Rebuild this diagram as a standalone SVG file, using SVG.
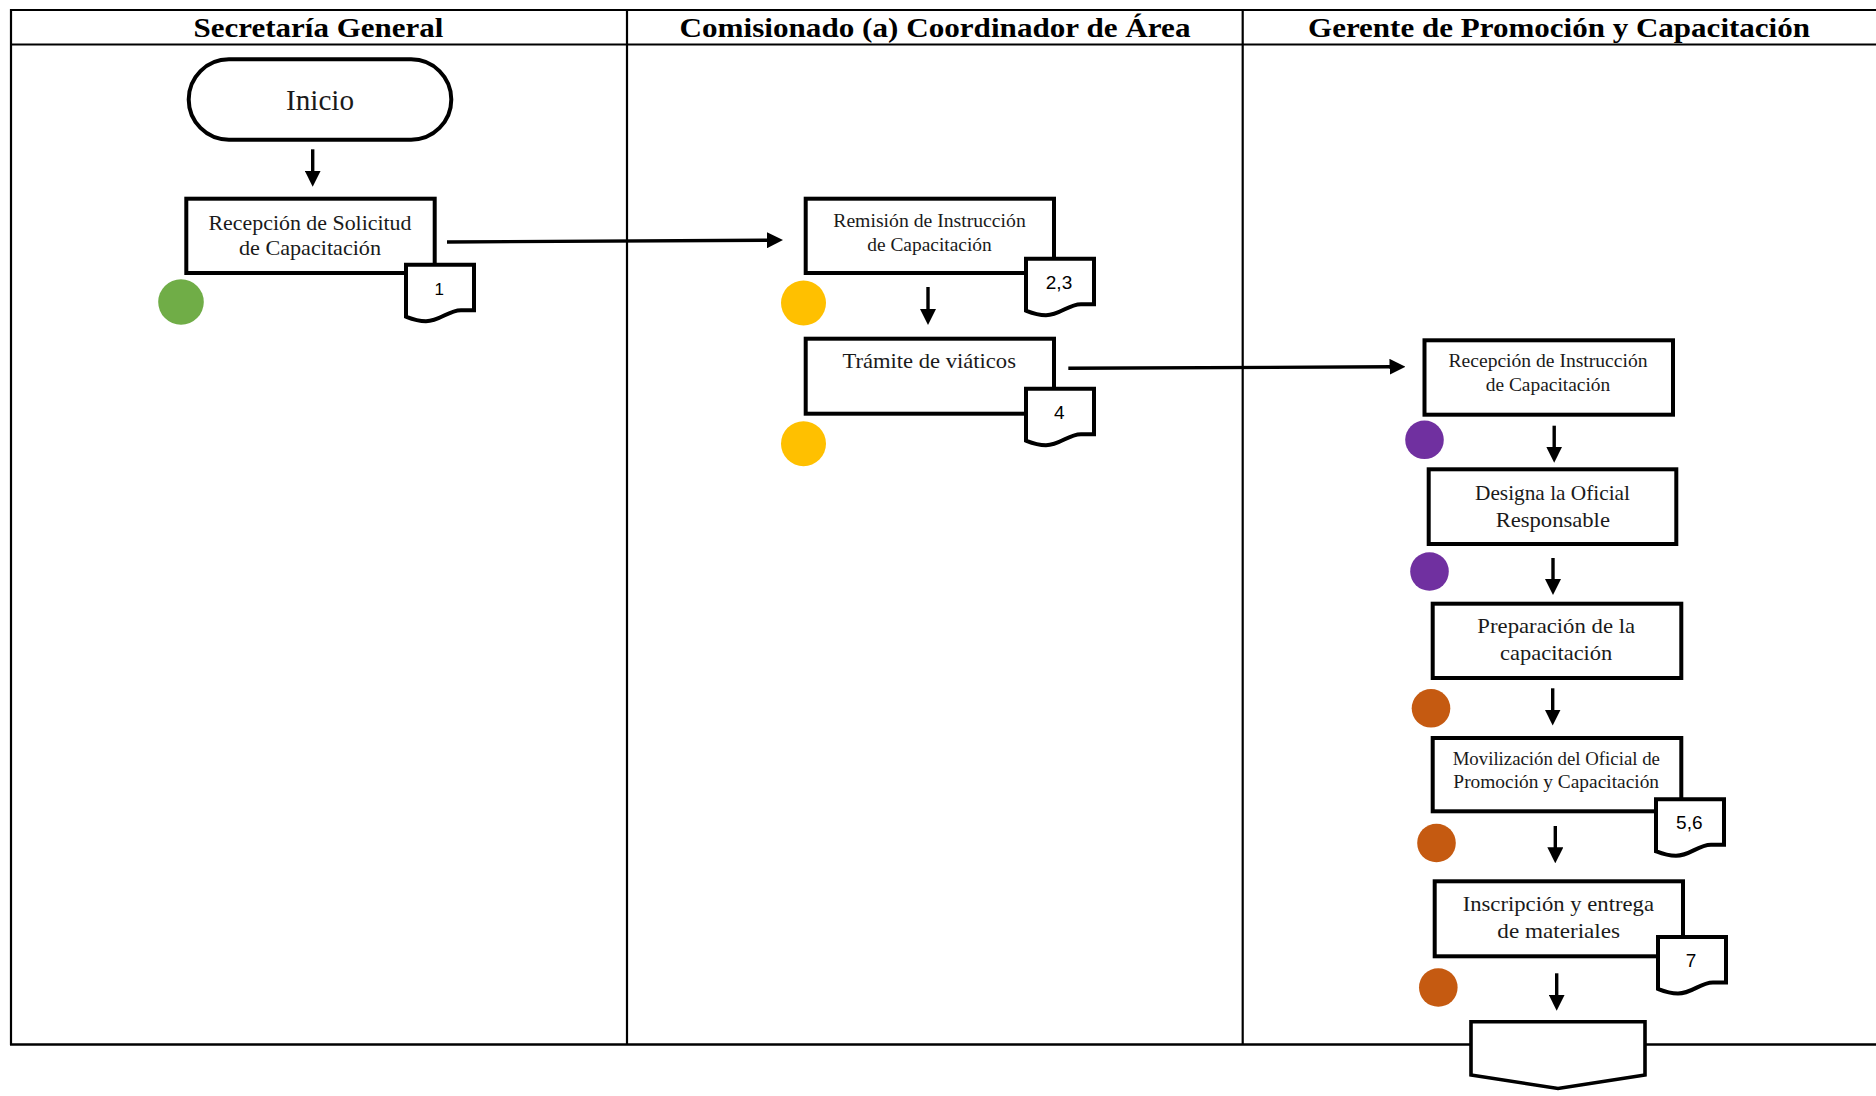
<svg xmlns="http://www.w3.org/2000/svg" width="1876" height="1096" viewBox="0 0 1876 1096">
  <style>
    .lane { stroke: #000; stroke-width: 2.2; fill: none; }
    .hdr { font-family: "Liberation Serif", "DejaVu Serif", serif; font-weight: bold; font-size: 28px; fill: #000; text-anchor: middle; }
    .box { fill: #fff; stroke: #000; stroke-width: 4; }
    .term { fill: #fff; stroke: #000; stroke-width: 4; }
    .doc { fill: #fff; stroke: #000; stroke-width: 4; stroke-linejoin: miter; }
    .lbl { font-family: "Liberation Serif", "DejaVu Serif", serif; font-size: 21px; fill: #1a1a1a; text-anchor: middle; }
    .sm { font-size: 18.5px; }
    .big { font-size: 21.5px; }
    .num { font-family: "Liberation Sans", Arial, sans-serif; font-size: 19px; fill: #000; text-anchor: middle; }
    .flow { stroke: #000; stroke-width: 3.4; fill: none; marker-end: url(#ah); }
    .green { fill: #70AD47; }
    .yellow { fill: #FFC000; }
    .purple { fill: #7030A0; }
    .orange { fill: #C55A11; }
  </style>
  <defs>
    <marker id="ah" markerUnits="userSpaceOnUse" markerWidth="16" markerHeight="16" refX="2" refY="8" orient="auto">
      <path d="M0,0 L16,8 L0,16 Z" fill="#000"/>
    </marker>
    <!-- document symbol, 68 wide, wavy bottom -->
    <path id="docShape" d="M0,0 H68 V45.5 H55 C42,45.5 34,56.5 20,56.5 C11,56.5 5,54 0,52 Z"/>
  </defs>

  <rect width="1876" height="1096" fill="#fff"/>

  <!-- swimlane table -->
  <g id="lanes">
    <line class="lane" x1="10" y1="10" x2="1876" y2="10"/>
    <line class="lane" x1="10" y1="44.5" x2="1876" y2="44.5"/>
    <line class="lane" x1="11" y1="9" x2="11" y2="1045"/>
    <line class="lane" x1="627" y1="9" x2="627" y2="1045"/>
    <line class="lane" x1="1242.7" y1="9" x2="1242.7" y2="1045"/>
    <line class="lane" x1="10" y1="1044.5" x2="1876" y2="1044.5" style="stroke-width:2.6"/>
    <text class="hdr" x="318.5" y="37" textLength="250" lengthAdjust="spacingAndGlyphs">Secretaría General</text>
    <text class="hdr" x="935" y="37" textLength="511" lengthAdjust="spacingAndGlyphs">Comisionado (a) Coordinador de Área</text>
    <text class="hdr" x="1559" y="37" textLength="502" lengthAdjust="spacingAndGlyphs">Gerente de Promoción y Capacitación</text>
  </g>

  <!-- connectors -->
  <g id="connectors">
    <line class="flow" x1="312.7" y1="149.3" x2="312.7" y2="172.7"/>
    <line class="flow" x1="447" y1="242" x2="769" y2="240.2"/>
    <line class="flow" x1="928" y1="287" x2="928" y2="311"/>
    <line class="flow" x1="1068.3" y1="368.3" x2="1391.5" y2="366.8"/>
    <line class="flow" x1="1554.2" y1="425.7" x2="1554.2" y2="448.7"/>
    <line class="flow" x1="1553" y1="558" x2="1553" y2="581"/>
    <line class="flow" x1="1552.7" y1="688.3" x2="1552.7" y2="711.5"/>
    <line class="flow" x1="1555.3" y1="826" x2="1555.3" y2="849.3"/>
    <line class="flow" x1="1556.7" y1="973.3" x2="1556.7" y2="996.7"/>
  </g>

  <!-- Secretaría General -->
  <g id="inicio">
    <rect class="term" x="188.7" y="59.3" width="262.6" height="80.4" rx="40.2" ry="40.2"/>
    <text class="lbl" x="320" y="110" style="font-size:30px" textLength="68" lengthAdjust="spacingAndGlyphs">Inicio</text>
  </g>

  <g id="recepcion-solicitud">
    <rect class="box" x="186.3" y="198.7" width="248.4" height="74.3"/>
    <text class="lbl" x="310" y="230" textLength="203" lengthAdjust="spacingAndGlyphs">Recepción de Solicitud</text>
    <text class="lbl" x="310" y="255" textLength="142" lengthAdjust="spacingAndGlyphs">de Capacitación</text>
    <use href="#docShape" class="doc" x="406" y="264.7"/>
    <text class="num" x="439.3" y="295" style="font-size:17px">1</text>
    <circle class="green" cx="181" cy="302" r="22.8"/>
  </g>

  <!-- Comisionado (a) Coordinador de Área -->
  <g id="remision-instruccion">
    <rect class="box" x="805.7" y="198.7" width="248.3" height="74.3"/>
    <text class="lbl sm" x="929.5" y="226.7" textLength="192.5" lengthAdjust="spacingAndGlyphs">Remisión de Instrucción</text>
    <text class="lbl sm" x="929.5" y="250.7" textLength="124.5" lengthAdjust="spacingAndGlyphs">de Capacitación</text>
    <use href="#docShape" class="doc" x="1026" y="258.7"/>
    <text class="num" x="1059" y="289">2,3</text>
    <circle class="yellow" cx="803.5" cy="303" r="22.5"/>
  </g>

  <g id="tramite-viaticos">
    <rect class="box" x="805.7" y="338.7" width="248.3" height="75"/>
    <text class="lbl" x="929.2" y="368.3" textLength="173.5" lengthAdjust="spacingAndGlyphs">Trámite de viáticos</text>
    <use href="#docShape" class="doc" x="1026" y="388.7"/>
    <text class="num" x="1059.3" y="419">4</text>
    <circle class="yellow" cx="803.5" cy="443.7" r="22.5"/>
  </g>

  <!-- Gerente de Promoción y Capacitación -->
  <g id="recepcion-instruccion">
    <rect class="box" x="1424.5" y="340.3" width="248.5" height="74.4"/>
    <text class="lbl sm" x="1548" y="366.7" textLength="199" lengthAdjust="spacingAndGlyphs">Recepción de Instrucción</text>
    <text class="lbl sm" x="1548" y="390.7" textLength="124.6" lengthAdjust="spacingAndGlyphs">de Capacitación</text>
    <circle class="purple" cx="1424.5" cy="439.8" r="19.3"/>
  </g>

  <g id="designa-oficial">
    <rect class="box" x="1428.7" y="469.3" width="247.6" height="74.7"/>
    <text class="lbl big" x="1552.5" y="500" textLength="155" lengthAdjust="spacingAndGlyphs">Designa la Oficial</text>
    <text class="lbl big" x="1552.8" y="526.7" textLength="114.3" lengthAdjust="spacingAndGlyphs">Responsable</text>
    <circle class="purple" cx="1429.5" cy="571.5" r="19.3"/>
  </g>

  <g id="preparacion">
    <rect class="box" x="1432.7" y="603.7" width="248.6" height="74.3"/>
    <text class="lbl big" x="1556.2" y="633.3" textLength="157.7" lengthAdjust="spacingAndGlyphs">Preparación de la</text>
    <text class="lbl big" x="1556.2" y="660" textLength="112.3" lengthAdjust="spacingAndGlyphs">capacitación</text>
    <circle class="orange" cx="1431" cy="708.3" r="19.3"/>
  </g>

  <g id="movilizacion">
    <rect class="box" x="1432.7" y="738" width="248.6" height="73.3"/>
    <text class="lbl sm" x="1556.3" y="765" textLength="207.3" lengthAdjust="spacingAndGlyphs">Movilización del Oficial de</text>
    <text class="lbl sm" x="1556.2" y="788.3" textLength="205.7" lengthAdjust="spacingAndGlyphs">Promoción y Capacitación</text>
    <use href="#docShape" class="doc" x="1656" y="799.3"/>
    <text class="num" x="1689.3" y="829">5,6</text>
    <circle class="orange" cx="1436.5" cy="843" r="19.3"/>
  </g>

  <g id="inscripcion">
    <rect class="box" x="1434.7" y="881.3" width="248.3" height="75"/>
    <text class="lbl big" x="1558.3" y="910.7" textLength="191.3" lengthAdjust="spacingAndGlyphs">Inscripción y entrega</text>
    <text class="lbl big" x="1558.7" y="938.3" textLength="122.7" lengthAdjust="spacingAndGlyphs">de materiales</text>
    <use href="#docShape" class="doc" x="1658" y="937"/>
    <text class="num" x="1691" y="966.7">7</text>
    <circle class="orange" cx="1438.3" cy="987.5" r="19.3"/>
  </g>

  <g id="conector-pagina">
    <path class="box" d="M1471,1021.8 H1645 V1075 L1558,1088.5 L1471,1075 Z" style="stroke-width:3.6"/>
  </g>
</svg>
